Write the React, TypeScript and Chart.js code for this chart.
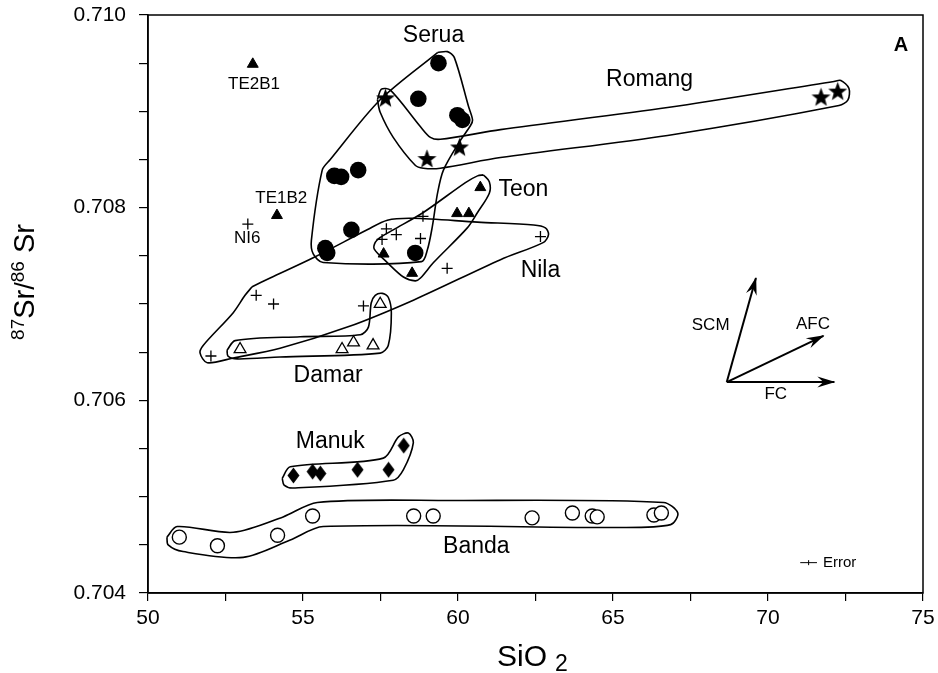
import React, { useEffect, useRef } from "react";
import { Chart, registerables } from "chart.js";

Chart.register(...registerables);

const FONT = "'Liberation Sans', Arial, Helvetica, sans-serif";

// ---------- axes ----------
const xMin = 50;
const xMax = 75;
const xStep = 2.5;
const xTickLabels = [50, 55, 60, 65, 70, 75];
const yMin = 0.704;
const yMax = 0.71;
const yStep = 0.0005;
const yTickLabels = [0.704, 0.706, 0.708, 0.71];

// ---------- sample data (SiO2 wt%, 87Sr/86Sr) ----------
const seruaSiO2 = [59.37, 58.72, 59.98, 60.14, 56.01, 56.23, 56.78, 56.56, 55.72, 55.78, 58.62];
const seruaSr = [0.7095, 0.70913, 0.70896, 0.70891, 0.70833, 0.70832, 0.70839, 0.70777, 0.70758, 0.70753, 0.70753];

const romangSiO2 = [57.66, 59.0, 60.05, 71.71, 72.25];
const romangSr = [0.70914, 0.70851, 0.70863, 0.70915, 0.70921];

const teonSiO2 = [60.72, 59.97, 60.35, 58.52, 57.6, 53.38, 54.16];
const teonSr = [0.70821, 0.70794, 0.70794, 0.70732, 0.70752, 0.70949, 0.70792];

const nilaSiO2 = [53.22, 53.49, 54.05, 52.03, 56.95, 57.69, 58.01, 57.55, 58.79, 59.65, 62.66, 58.87];
const nilaSr = [0.70783, 0.70709, 0.707, 0.70646, 0.70698, 0.70778, 0.70772, 0.70767, 0.70768, 0.70737, 0.7077, 0.70791];

const damarSiO2 = [52.97, 56.26, 56.63, 57.26, 57.49];
const damarSr = [0.70653, 0.70653, 0.7066, 0.70657, 0.707];

const manukSiO2 = [54.69, 55.31, 55.56, 56.76, 57.76, 58.25];
const manukSr = [0.70522, 0.70526, 0.70524, 0.70528, 0.70528, 0.70553];

const bandaSiO2 = [51.01, 52.24, 54.18, 55.31, 58.57, 59.2, 62.39, 63.69, 64.33, 64.49, 66.32, 66.56];
const bandaSr = [0.70458, 0.70449, 0.7046, 0.7048, 0.7048, 0.7048, 0.70478, 0.70483, 0.7048, 0.70479, 0.70481, 0.70483];

// ---------- hand-drawn field envelopes (outline vertices) ----------
const seruaHullSiO2 = [59.34, 59.66, 59.88, 60.34, 60.47, 60.4, 60.08, 59.53, 59.34, 59.17, 59.01, 58.82, 55.65, 55.33, 55.27, 55.62, 55.88, 57.49];
const seruaHullSr = [0.70961, 0.70962, 0.70956, 0.70905, 0.70891, 0.70885, 0.7087, 0.70839, 0.70815, 0.7078, 0.70756, 0.70744, 0.70743, 0.70752, 0.70766, 0.70839, 0.7085, 0.70912];

const romangHullSiO2 = [57.4, 57.53, 57.82, 58.79, 59.11, 59.43, 61.37, 66.76, 72.13, 72.35, 72.61, 72.58, 72.29, 66.76, 61.37, 59.43, 58.88, 58.62, 57.91, 57.49];
const romangHullSr = [0.70912, 0.70923, 0.70922, 0.70884, 0.70873, 0.70871, 0.70881, 0.70904, 0.70931, 0.70932, 0.70924, 0.70912, 0.70906, 0.70875, 0.70852, 0.70841, 0.70841, 0.70844, 0.70873, 0.70899];

const teonHullSiO2 = [60.82, 61.01, 61.01, 60.63, 60.3, 59.21, 58.79, 58.62, 58.24, 57.72, 57.3, 57.33, 57.49, 57.91, 58.88, 60.24, 60.63];
const teonHullSr = [0.70834, 0.70827, 0.70815, 0.70795, 0.70779, 0.70743, 0.70727, 0.70724, 0.70728, 0.70743, 0.70757, 0.70764, 0.70769, 0.70777, 0.70795, 0.70826, 0.70833];

const nilaHullSiO2 = [53.36, 53.94, 55.33, 57.07, 57.72, 58.56, 60.63, 62.44, 62.82, 62.92, 62.76, 61.37, 58.56, 56.43, 54.26, 52.75, 51.91, 51.68, 51.78, 52.75, 53.13];
const nilaHullSr = [0.70718, 0.70727, 0.70748, 0.70777, 0.70787, 0.70789, 0.70785, 0.70782, 0.70779, 0.70772, 0.70764, 0.70746, 0.70704, 0.70676, 0.70654, 0.70644, 0.70639, 0.70649, 0.70657, 0.70691, 0.70709];

const damarHullSiO2 = [52.55, 52.81, 54.91, 56.85, 57.11, 57.2, 57.33, 57.56, 57.75, 57.85, 57.75, 57.49, 54.26, 52.88, 52.58];
const damarHullSr = [0.70652, 0.70662, 0.70666, 0.70668, 0.70676, 0.70701, 0.70709, 0.70711, 0.70707, 0.70691, 0.70657, 0.70649, 0.70645, 0.70643, 0.70646];

const manukHullSiO2 = [54.33, 54.59, 57.59, 58.08, 58.4, 58.56, 58.24, 57.91, 54.68, 54.39];
const manukHullSr = [0.70519, 0.70531, 0.7054, 0.70562, 0.70566, 0.70556, 0.70528, 0.70517, 0.70509, 0.70512];

const bandaHullSiO2 = [50.61, 50.94, 52.75, 54.36, 55.46, 59.76, 66.63, 67.09, 66.86, 65.15, 55.65, 54.59, 53.07, 51.13, 50.65];
const bandaHullSr = [0.70458, 0.70469, 0.70463, 0.70479, 0.70494, 0.70496, 0.70494, 0.70483, 0.70471, 0.70468, 0.70469, 0.70455, 0.70437, 0.70443, 0.7045];

// ---------- process vectors ----------
const vectorNames = ["SCM", "AFC", "FC"];
const vectorOriginSiO2 = 68.67;
const vectorOriginSr = 0.70619;
const vectorEndSiO2 = [69.61, 71.79, 72.14];
const vectorEndSr = [0.70727, 0.70667, 0.70619];
const vectorLabelSiO2 = [68.15, 71.45, 70.25];
const vectorLabelSr = [0.70678, 0.70679, 0.70606];

// ---------- error bar ----------
const errorSiO2 = 71.31;
const errorSr = 0.704315;
const errorHalfSiO2 = 0.27;
const errorHalfSr = 0.000026;

// ---------- text labels ----------
const groupNames = ["Serua", "Romang", "Teon", "Nila", "Damar", "Manuk", "Banda"];
const groupLabelSiO2 = [59.21, 66.18, 62.11, 62.66, 55.81, 55.88, 60.59];
const groupLabelSr = [0.70979, 0.70933, 0.70819, 0.70735, 0.70626, 0.70557, 0.70448];
const sampleNames = ["TE2B1", "TE1B2", "NI6"];
const sampleLabelSiO2 = [53.42, 54.3, 53.2];
const sampleLabelSr = [0.70928, 0.7081, 0.70768];

const zip = (xs: number[], ys: number[]) => xs.map((x, i) => ({ x, y: ys[i] }));
const closed = (xs: number[], ys: number[]) => {
  const p = zip(xs, ys);
  p.push({ ...p[0] });
  return p;
};

function makeStar(): HTMLCanvasElement {
  const c = document.createElement("canvas");
  c.width = 21;
  c.height = 21;
  const ctx = c.getContext("2d")!;
  ctx.fillStyle = "#000";
  ctx.beginPath();
  for (let i = 0; i < 10; i++) {
    const r = i % 2 === 0 ? 10 : 4.2;
    const a = -Math.PI / 2 + (i * Math.PI) / 5;
    ctx.lineTo(10.5 + r * Math.cos(a), 11.3 + r * Math.sin(a));
  }
  ctx.closePath();
  ctx.fill();
  return c;
}

function makeDiamond(): HTMLCanvasElement {
  const c = document.createElement("canvas");
  c.width = 13;
  c.height = 17;
  const ctx = c.getContext("2d")!;
  ctx.fillStyle = "#000";
  ctx.beginPath();
  ctx.moveTo(6.5, 0.5);
  ctx.lineTo(12.5, 8.5);
  ctx.lineTo(6.5, 16.5);
  ctx.lineTo(0.5, 8.5);
  ctx.closePath();
  ctx.fill();
  return c;
}

const annotPlugin = {
  id: "annot",
  afterDraw(chart: any) {
    const { ctx, chartArea } = chart;
    const xs = chart.scales.x;
    const ys = chart.scales.y;
    const px = (v: number) => xs.getPixelForValue(v);
    const py = (v: number) => ys.getPixelForValue(v);
    ctx.save();
    // frame
    ctx.strokeStyle = "#000";
    ctx.lineWidth = 1.5;
    ctx.strokeRect(chartArea.left, chartArea.top, chartArea.right - chartArea.left, chartArea.bottom - chartArea.top);

    // arrow heads
    ctx.fillStyle = "#000";
    for (let i = 0; i < vectorNames.length; i++) {
      const x0 = px(vectorOriginSiO2), y0 = py(vectorOriginSr);
      const x1 = px(vectorEndSiO2[i]), y1 = py(vectorEndSr[i]);
      const ang = Math.atan2(y1 - y0, x1 - x0);
      ctx.save();
      ctx.translate(x1, y1);
      ctx.rotate(ang);
      ctx.beginPath();
      ctx.moveTo(1, 0);
      ctx.lineTo(-17, -5.5);
      ctx.lineTo(-11, 0);
      ctx.lineTo(-17, 5.5);
      ctx.closePath();
      ctx.fill();
      ctx.restore();
    }

    // labels
    ctx.textAlign = "center";
    ctx.textBaseline = "middle";
    ctx.font = `23px ${FONT}`;
    groupNames.forEach((t, i) => ctx.fillText(t, px(groupLabelSiO2[i]), py(groupLabelSr[i])));
    ctx.font = `17px ${FONT}`;
    sampleNames.forEach((t, i) => ctx.fillText(t, px(sampleLabelSiO2[i]), py(sampleLabelSr[i])));
    vectorNames.forEach((t, i) => ctx.fillText(t, px(vectorLabelSiO2[i]), py(vectorLabelSr[i])));
    ctx.textAlign = "left";
    ctx.font = `15px ${FONT}`;
    ctx.fillText("Error", px(errorSiO2 + errorHalfSiO2) + 6, py(errorSr));
    ctx.textAlign = "center";
    ctx.font = `bold 20px ${FONT}`;
    ctx.fillText("A", px(74.29), py(0.70968));

    // x axis title: SiO2
    ctx.textAlign = "left";
    ctx.textBaseline = "alphabetic";
    ctx.font = `30px ${FONT}`;
    const sx = 497;
    ctx.fillText("SiO", sx, 666);
    const w = ctx.measureText("SiO").width;
    ctx.font = `23px ${FONT}`;
    ctx.fillText("2", sx + w + 8, 671);

    // y axis title: 87Sr/86Sr
    const parts = [
      { t: "87", s: 19, dy: -10 },
      { t: "Sr", s: 29, dy: 0 },
      { t: "/", s: 27, dy: 0 },
      { t: "86", s: 19, dy: -10 },
      { t: " Sr", s: 29, dy: 0 },
    ];
    let total = 0;
    for (const p of parts) {
      ctx.font = `${p.s}px ${FONT}`;
      total += ctx.measureText(p.t).width;
    }
    ctx.translate(34, 282);
    ctx.rotate(-Math.PI / 2);
    let u = -total / 2;
    for (const p of parts) {
      ctx.font = `${p.s}px ${FONT}`;
      ctx.fillText(p.t, u, p.dy);
      u += ctx.measureText(p.t).width;
    }
    ctx.restore();
  },
};

export default function App() {
  const ref = useRef<HTMLCanvasElement | null>(null);

  useEffect(() => {
    if (!ref.current) return;
    const star = makeStar();
    const diamond = makeDiamond();

    const hullStyle = {
      showLine: true,
      pointRadius: 0,
      borderColor: "#000",
      borderWidth: 1.6,
      tension: 0.3,
      fill: false,
      borderJoinStyle: "round" as const,
      order: 5,
    };
    const hulls = [
      closed(seruaHullSiO2, seruaHullSr),
      closed(romangHullSiO2, romangHullSr),
      closed(teonHullSiO2, teonHullSr),
      closed(nilaHullSiO2, nilaHullSr),
      closed(damarHullSiO2, damarHullSr),
      closed(manukHullSiO2, manukHullSr),
      closed(bandaHullSiO2, bandaHullSr),
    ].map((data) => ({ ...hullStyle, data }));

    const vectors = vectorNames.map((_, i) => ({
      showLine: true,
      pointRadius: 0,
      borderColor: "#000",
      borderWidth: 2,
      tension: 0,
      order: 4,
      data: [
        { x: vectorOriginSiO2, y: vectorOriginSr },
        { x: vectorEndSiO2[i], y: vectorEndSr[i] },
      ],
    }));

    const errorBars = [
      [
        { x: errorSiO2 - errorHalfSiO2, y: errorSr },
        { x: errorSiO2 + errorHalfSiO2, y: errorSr },
      ],
      [
        { x: errorSiO2, y: errorSr - errorHalfSr },
        { x: errorSiO2, y: errorSr + errorHalfSr },
      ],
    ].map((data) => ({
      showLine: true,
      pointRadius: 0,
      borderColor: "#000",
      borderWidth: 1,
      order: 4,
      data,
    }));

    const points = [
      {
        label: "Serua",
        data: zip(seruaSiO2, seruaSr),
        pointStyle: "circle",
        pointRadius: 8.3,
        backgroundColor: "#000",
        borderColor: "#000",
        borderWidth: 0,
      },
      {
        label: "Romang",
        data: zip(romangSiO2, romangSr),
        pointStyle: star,
        pointRadius: 10,
      },
      {
        label: "Teon",
        data: zip(teonSiO2, teonSr),
        pointStyle: "triangle",
        pointRadius: 6.3,
        backgroundColor: "#000",
        borderColor: "#000",
        borderWidth: 1,
      },
      {
        label: "Nila",
        data: zip(nilaSiO2, nilaSr),
        pointStyle: "cross",
        pointRadius: 5.5,
        borderColor: "#000",
        borderWidth: 1.3,
      },
      {
        label: "Damar",
        data: zip(damarSiO2, damarSr),
        pointStyle: "triangle",
        pointRadius: 6.8,
        backgroundColor: "#fff",
        borderColor: "#000",
        borderWidth: 1.3,
      },
      {
        label: "Manuk",
        data: zip(manukSiO2, manukSr),
        pointStyle: diamond,
        pointRadius: 8,
      },
      {
        label: "Banda",
        data: zip(bandaSiO2, bandaSr),
        pointStyle: "circle",
        pointRadius: 7,
        backgroundColor: "#fff",
        borderColor: "#000",
        borderWidth: 1.4,
      },
    ].map((d) => ({ ...d, showLine: false, order: 0 }));

    const tickFont = { family: FONT, size: 21 };
    const chart = new Chart(ref.current, {
      type: "scatter",
      data: { datasets: [...points, ...vectors, ...errorBars, ...hulls] as any },
      options: {
        animation: false,
        responsive: false,
        events: [],
        layout: { padding: { left: 0, top: 15, right: 15, bottom: 0 } },
        plugins: {
          legend: { display: false },
          tooltip: { enabled: false },
        },
        scales: {
          x: {
            type: "linear",
            min: xMin,
            max: xMax,
            ticks: {
              stepSize: xStep,
              autoSkip: false,
              maxRotation: 0,
              padding: 5,
              color: "#000",
              font: tickFont,
              callback: (v: any) => (xTickLabels.some((t) => Math.abs(t - v) < 1e-6) ? String(v) : ""),
            },
            grid: { drawOnChartArea: false, drawTicks: true, tickLength: 8, color: "#000", lineWidth: 1.2 },
            border: { display: true, color: "#000", width: 1.5 },
            afterFit: (s: any) => {
              s.height = 80;
              s.paddingLeft = 0;
              s.paddingRight = 0;
            },
          },
          y: {
            type: "linear",
            min: yMin,
            max: yMax,
            ticks: {
              stepSize: yStep,
              autoSkip: false,
              padding: 13,
              color: "#000",
              font: tickFont,
              callback: (v: any) => {
                const t = yTickLabels.find((t) => Math.abs(t - v) < 1e-7);
                return t !== undefined ? t.toFixed(3) : "";
              },
            },
            grid: { drawOnChartArea: false, drawTicks: true, tickLength: 9, color: "#000", lineWidth: 1.2 },
            border: { display: true, color: "#000", width: 1.5 },
            afterFit: (s: any) => {
              s.width = 148;
              s.paddingTop = 0;
              s.paddingBottom = 0;
            },
          },
        },
      } as any,
      plugins: [annotPlugin],
    });
    return () => chart.destroy();
  }, []);

  return (
    <div style={{ position: "absolute", left: 0, top: 0, width: 938, height: 673, background: "#fff" }}>
      <canvas ref={ref} width={938} height={673} style={{ display: "block" }} />
    </div>
  );
}
